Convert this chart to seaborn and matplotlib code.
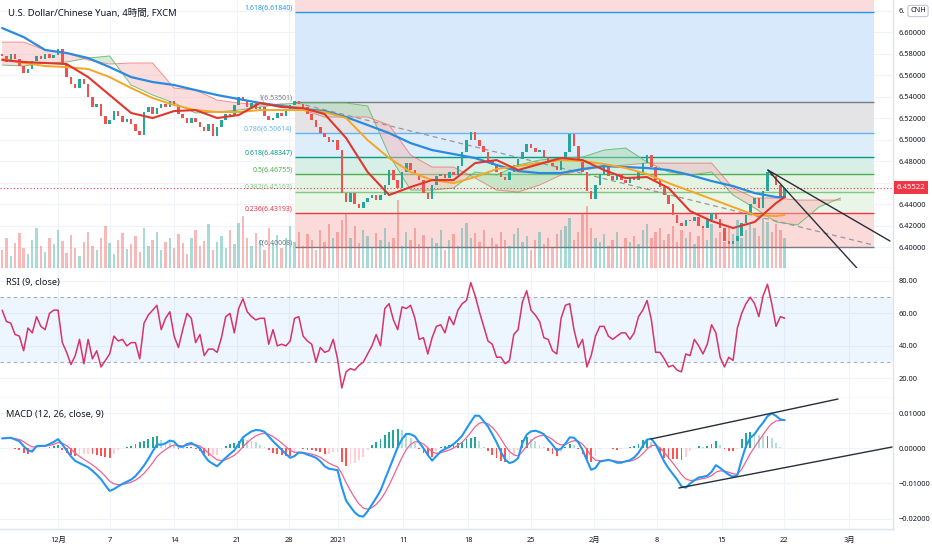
import numpy as np
import pandas as pd
import matplotlib
matplotlib.use("Agg")
import matplotlib.pyplot as plt
import matplotlib.transforms as mtransforms
import seaborn as sns

sns.set_theme(style="white")
plt.rcParams["font.family"] = ["Noto Sans", "Noto Sans CJK JP", "DejaVu Sans"]

# %%
# USD/CNH, one value per 8h bar (open = previous close)
first_open = 6.580
close = [
    6.578, 6.572, 6.580, 6.575, 6.568, 6.562, 6.566, 6.573, 6.578, 6.575,
    6.580, 6.576, 6.579, 6.584, 6.570, 6.558, 6.552, 6.548, 6.556, 6.552,
    6.540, 6.530, 6.533, 6.522, 6.514, 6.518, 6.527, 6.522, 6.516, 6.519,
    6.514, 6.508, 6.504, 6.526, 6.530, 6.524, 6.529, 6.533, 6.530, 6.536,
    6.532, 6.524, 6.520, 6.515, 6.520, 6.516, 6.512, 6.508, 6.514, 6.503,
    6.512, 6.518, 6.524, 6.522, 6.532, 6.540, 6.536, 6.530, 6.534, 6.528,
    6.530, 6.522, 6.518, 6.520, 6.525, 6.522, 6.528, 6.532, 6.536, 6.533,
    6.530, 6.524, 6.518, 6.512, 6.506, 6.502, 6.498, 6.500, 6.490, 6.450,
    6.442, 6.450, 6.440, 6.436, 6.442, 6.446, 6.448, 6.444, 6.448, 6.458,
    6.472, 6.462, 6.455, 6.470, 6.478, 6.472, 6.468, 6.462, 6.450, 6.445,
    6.458, 6.466, 6.468, 6.464, 6.470, 6.467, 6.475, 6.488, 6.500, 6.507,
    6.500, 6.494, 6.488, 6.480, 6.476, 6.470, 6.465, 6.462, 6.470, 6.476,
    6.482, 6.488, 6.496, 6.492, 6.488, 6.490, 6.484, 6.478, 6.475, 6.472,
    6.482, 6.488, 6.505, 6.494, 6.480, 6.470, 6.452, 6.445, 6.458, 6.468,
    6.474, 6.466, 6.462, 6.468, 6.462, 6.460, 6.464, 6.462, 6.470, 6.478,
    6.486, 6.474, 6.462, 6.456, 6.448, 6.440, 6.430, 6.422, 6.420, 6.425,
    6.424, 6.428, 6.420, 6.418, 6.425, 6.432, 6.426, 6.418, 6.406, 6.403,
    6.406, 6.410, 6.422, 6.430, 6.440, 6.446, 6.436, 6.452, 6.470, 6.466,
    6.458, 6.446, 6.45522,
]
volume = [
    18, 30, 12, 25, 35, 20, 14, 28, 40, 22,
    16, 30, 24, 38, 27, 15, 33, 20, 12, 26,
    36, 22, 18, 30, 42, 25, 14, 28, 35, 19,
    24, 32, 16, 40, 22, 28, 36, 18, 26, 30,
    20, 34, 25, 14, 30, 38, 22, 27, 44, 18,
    26, 32, 20, 38, 24, 45, 52, 30, 22, 35,
    28, 18, 40, 25, 33, 20, 30, 42, 26, 36,
    22, 34, 28, 18, 38, 26, 44, 30, 36, 48,
    55, 30, 42, 25, 38, 32, 20, 35, 28, 40,
    26, 30, 68, 22, 36, 28, 40, 24, 33, 20,
    30, 25, 38, 18, 28, 34, 22, 40, 45, 30,
    35, 26, 38, 20, 30, 24, 36, 28, 22, 34,
    40, 26, 32, 18, 28, 36, 24, 30, 20, 34,
    38, 42, 50, 28, 36, 55, 62, 40, 30, 26,
    34, 22, 28, 36, 20, 30, 26, 32, 24, 38,
    44, 30, 36, 40, 28, 34, 42, 26, 38, 30,
    36, 24, 32, 40, 28, 44, 30, 36, 26, 42,
    34, 48, 30, 38, 45, 40, 32, 50, 46, 36,
    44, 38, 30,
]
rsi = [
    62, 55, 54, 47, 46, 37, 51, 48, 58, 52,
    50, 60, 62, 62, 42, 36, 28.5, 34, 44, 29,
    44, 32, 37, 27, 31, 35, 46, 43, 44, 40,
    42, 42, 32, 54, 59, 62, 65, 50, 57, 61,
    46, 39, 50, 60, 57, 42, 47, 34, 38, 38,
    36, 45, 58, 60, 48, 63, 69, 61, 58, 56,
    57, 57, 41, 50, 40, 41, 40, 43, 57, 58,
    46, 43, 41, 30, 39, 36, 37, 44, 32, 14,
    24, 26, 25, 28, 30, 35, 40, 47, 40, 63,
    66, 56, 50, 64, 63, 65, 57, 44, 45, 35,
    45, 52, 53, 48, 58, 53, 62, 66, 68, 79,
    71, 61, 52, 43, 41, 33, 33, 29, 31, 47,
    50, 67, 74, 62, 59, 55, 45, 44, 37, 35,
    57, 65, 66, 50, 39, 44, 27, 34, 46, 52,
    52, 46, 44, 46, 48, 48, 44, 48, 58, 62,
    68, 56, 36, 36, 32, 27, 28, 25, 24, 35,
    34, 44, 40, 35, 41, 53, 48, 33, 27, 33,
    31, 51, 60, 66, 70, 66, 58, 71, 78, 66,
    52, 58, 57,
]
# MACD line in thousandths
macd_milli = [
    2.8, 2.9, 3.0, 2.5, 2.0, 0.6, -0.6, -0.9, 0.6, 0.7,
    0.7, 1.2, 1.8, 2.6, 1.1, -0.6, -2.3, -3.6, -4.2, -4.8,
    -5.4, -6.4, -7.5, -8.8, -10.5, -12.1, -11.6, -10.8, -10.1, -9.5,
    -8.9, -7.9, -6.5, -4.9, -3.0, -0.9, 1.1, 1.0, 1.4, 2.2,
    1.9, 0.5, 0.4, 1.2, 1.5, 0.8, 0.0, -2.0, -3.6, -4.4,
    -5.1, -3.9, -2.7, -1.6, -0.6, 1.2, 3.1, 4.0, 4.8, 5.2,
    5.1, 4.7, 3.4, 2.0, 0.8, -0.4, -1.6, -2.7, -2.2, -1.2,
    -1.3, -1.8, -2.2, -2.7, -3.7, -5.1, -5.8, -6.0, -6.2, -11.0,
    -14.9, -16.6, -18.2, -19.2, -19.4, -17.9, -16.0, -14.1, -12.0, -8.9,
    -5.9, -2.8, 0.3, 2.6, 4.1, 4.0, 3.4, 1.7, 0.0, -1.9,
    -3.5, -2.2, -0.9, -0.2, 0.4, 1.2, 2.3, 3.6, 5.6, 7.5,
    9.3, 9.2, 7.7, 6.2, 4.0, 1.7, -1.0, -3.2, -4.2, -3.8,
    -2.8, 1.5, 3.9, 4.8, 5.0, 4.6, 4.0, 2.4, 1.0, -0.6,
    -0.1, 1.3, 3.1, 3.0, 1.7, -0.5, -3.4, -6.1, -5.6, -3.8,
    -3.5, -3.3, -3.6, -4.1, -4.1, -3.7, -3.4, -2.6, -1.3, 0.7,
    2.5, 2.7, 1.1, -1.3, -3.8, -5.7, -7.3, -8.9, -10.8, -11.2,
    -10.0, -9.1, -8.3, -8.1, -7.8, -6.7, -4.8, -5.6, -6.6, -7.5,
    -8.1, -7.6, -3.2, 0.6, 3.0, 4.0, 5.8, 7.3, 9.1, 9.9,
    9.2, 8.2, 8.0,
]

# moving averages, read every 5 bars
ma_idx = list(range(0, 181, 5)) + [182]
ma_red = [6.5740, 6.5721, 6.5712, 6.5702, 6.5581, 6.5414, 6.5247, 6.5200, 6.5265, 6.5274,
          6.5200, 6.5228, 6.5340, 6.5302, 6.5293, 6.5237, 6.5014, 6.4698, 6.4484, 6.4558,
          6.4623, 6.4623, 6.4781, 6.4809, 6.4716, 6.4772, 6.4828, 6.4809, 6.4716, 6.4642,
          6.4651, 6.4549, 6.4335, 6.4242, 6.4177, 6.4233, 6.4409, 6.4465]
ma_orange = [6.5749, 6.5712, 6.5684, 6.5674, 6.5656, 6.5581, 6.5479, 6.5386, 6.5321, 6.5274,
             6.5256, 6.5256, 6.5274, 6.5274, 6.5274, 6.5256, 6.5200, 6.4995, 6.4828, 6.4698,
             6.4623, 6.4595, 6.4651, 6.4726, 6.4753, 6.4781, 6.4809, 6.4800, 6.4772, 6.4735,
             6.4679, 6.4595, 6.4521, 6.4447, 6.4372, 6.4298, 6.4288, 6.4298]
ma_blue = [6.6037, 6.5953, 6.5833, 6.5805, 6.5758, 6.5674, 6.5581, 6.5535, 6.5507, 6.5460,
           6.5414, 6.5377, 6.5340, 6.5312, 6.5284, 6.5265, 6.5209, 6.5135, 6.5060, 6.4967,
           6.4902, 6.4865, 6.4828, 6.4763, 6.4707, 6.4688, 6.4688, 6.4726, 6.4753, 6.4744,
           6.4735, 6.4716, 6.4670, 6.4614, 6.4567, 6.4502, 6.4465, 6.4465]

# ichimoku cloud spans, every 5 bars (runs past the last bar)
cloud_idx = list(range(0, 196, 5))
span_a = [6.5693, 6.5684, 6.5712, 6.5721, 6.5758, 6.5777, 6.5507, 6.5414, 6.5340, 6.5247,
          6.5256, 6.5274, 6.5302, 6.5330, 6.5340, 6.5340, 6.5340, 6.5312, 6.4856, 6.4530,
          6.4530, 6.4549, 6.4698, 6.4670, 6.4763, 6.4809, 6.4828, 6.4837, 6.4902, 6.4921,
          6.4791, 6.4698, 6.4670, 6.4698, 6.4484, 6.4363, 6.4233, 6.4205, 6.4372, 6.4456]
span_b = [6.5907, 6.5907, 6.5833, 6.5805, 6.5740, 6.5702, 6.5712, 6.5712, 6.5479, 6.5460,
          6.5367, 6.5340, 6.5321, 6.5330, 6.5274, 6.5209, 6.5209, 6.5209, 6.5135, 6.4856,
          6.4744, 6.4744, 6.4642, 6.4530, 6.4512, 6.4577, 6.4670, 6.4716, 6.4744, 6.4763,
          6.4781, 6.4781, 6.4781, 6.4781, 6.4549, 6.4456, 6.4456, 6.4437, 6.4437, 6.4437]

# fibonacci retracement
fib_ratio = ["1.618", "1", "0.786", "0.618", "0.5", "0.382", "0.236", "0"]
fib_price = [6.61840, 6.53501, 6.50614, 6.48347, 6.46755, 6.45163, 6.43193, 6.40008]
fib_line_col = ["#2196f3", "#787b86", "#64b5f6", "#089981", "#4caf50", "#81c784", "#f23645", "#787b86"]
fib_zone_col = ["#fbdcdc", "#d7e9fb", "#e4e4e6", "#ddedfa", "#d8efe8", "#e4f3e2", "#e9f5e7", "#fbdada"]
fib_start, fib_end = 68.1, 202.8

# hand-drawn lines (bar index, value)
trend_top = ([178.1, 206.5], [6.4716, 6.4056])
trend_steep = ([178.1, 198.8], [6.4716, 6.3805])
trend_dash = ([70.5, 202.6], [6.5321, 6.4019])
macd_chan_top = ([150.9, 194.4], [0.00264, 0.0140])
macd_chan_low = ([157.4, 207.0], [-0.01128, 0.00037])

last_price = 6.45522
price_ticks = [6.40, 6.42, 6.44, 6.46, 6.48, 6.50, 6.52, 6.54, 6.56, 6.58, 6.60, 6.62]
tick_labels = ["12月", "7", "14", "21", "28", "2021", "11", "18", "25", "2月", "8", "15", "22", "3月"]
tick_pos = [13.0, 25.1, 40.0, 54.6, 66.7, 78.1, 93.3, 108.4, 123.0, 137.7, 152.3, 167.4, 181.9, 197.0]

# %%
bars = np.arange(len(close))
c = np.array(close)
o = np.concatenate([[first_open], c[:-1]])
up = c >= o
candle_col = np.where(up, "#26a69a", "#ef5350")

macd = np.array(macd_milli) / 1000
signal = pd.Series(macd).ewm(span=5, adjust=False).mean().values
hist = macd - signal
prev = np.concatenate([[hist[0]], hist[:-1]])
hist_col = np.where(hist >= 0,
                    np.where(hist >= prev, "#26a69a", "#b2dfdb"),
                    np.where(hist <= prev, "#ff5252", "#ffcdd2"))

W, H = 932, 550
fig = plt.figure(figsize=(W / 100, H / 100), dpi=100)
ax = fig.add_axes([0, 282 / H, 893 / W, 268 / H])
ax_rsi = fig.add_axes([0, 152 / H, 893 / W, 130 / H])
ax_macd = fig.add_axes([0, 21 / H, 893 / W, 131 / H])

# volume on a hidden twin axis (created first so the price ticks stay on the right)
axv = ax.twinx()

grid_col = "#f0f3fa"
edge_col = "#e0e3eb"
txt_col = "#131722"
for a in (ax, ax_rsi, ax_macd):
    a.set_xlim(-0.5, 207.2)
    a.set_facecolor("white")
    for s in ("left", "top"):
        a.spines[s].set_visible(False)
    for s in ("right", "bottom"):
        a.spines[s].set_color(edge_col)
        a.spines[s].set_linewidth(1)
    a.yaxis.tick_right()
    a.yaxis.set_label_position("right")
    a.tick_params(axis="both", length=0, labelsize=5.3, labelcolor=txt_col, pad=4)
    a.tick_params(axis="y", left=False, labelleft=False, right=True, labelright=True)
    a.grid(True, color=grid_col, lw=0.8)
    a.set_axisbelow(True)

# --- price panel
ax.set_ylim(6.3805, 6.6298)

# fib zones
tops = [6.6298] + fib_price[:-1]
for top, bot, zc in zip(tops, fib_price, fib_zone_col):
    ax.fill_between([fib_start, fib_end], bot, top, color=zc, lw=0, zorder=1)
ax.hlines(fib_price, fib_start, fib_end, colors=fib_line_col, lw=1, zorder=2)
for r, p, lc in zip(fib_ratio, fib_price, fib_line_col):
    ax.text(fib_start - 0.6, p + 0.0006, f"{r}({p:.5f})", ha="right", va="bottom",
            fontsize=5, color=lc, zorder=2)

# ichimoku cloud
sa, sb = np.array(span_a), np.array(span_b)
ax.fill_between(cloud_idx, sa, sb, where=sb >= sa, interpolate=True,
                color="#f7b4b4", alpha=0.45, lw=0, zorder=3)
ax.fill_between(cloud_idx, sa, sb, where=sa > sb, interpolate=True,
                color="#a5d6a7", alpha=0.45, lw=0, zorder=3)
ax.plot(cloud_idx, sa, color="#66bb6a", lw=0.7, alpha=0.9, zorder=3)
ax.plot(cloud_idx, sb, color="#ef5350", lw=0.7, alpha=0.6, zorder=3)

ax.axhline(last_price, color="#f23645", lw=0.8, ls=(0, (1, 2)), zorder=3)
ax.plot(*trend_dash, color="#9598a1", lw=0.9, ls=(0, (4, 3)), zorder=4)

# candles
ax.bar(bars, np.maximum(np.abs(c - o), 0.0006), bottom=np.minimum(o, c),
       width=0.58, color=candle_col, lw=0, zorder=5)

sns.lineplot(x=ma_idx, y=ma_blue, ax=ax, color="#2a8ae0", lw=1.6, zorder=6)
sns.lineplot(x=ma_idx, y=ma_orange, ax=ax, color="#f5a623", lw=1.4, zorder=6)
sns.lineplot(x=ma_idx, y=ma_red, ax=ax, color="#e0362d", lw=1.5, zorder=7)

ax.plot(*trend_top, color="#2a2e39", lw=1, zorder=8)
ax.plot(*trend_steep, color="#2a2e39", lw=1, zorder=8)

# 6.46 sits under the last-price badge, 6.62 under the currency box
price_labels = []
for v in price_ticks:
    if abs(v - 6.46) < 1e-9:
        price_labels.append("")
    elif abs(v - 6.62) < 1e-9:
        price_labels.append("6.")
    else:
        price_labels.append(f"{v:.5f}")
ax.set_yticks(price_ticks, price_labels)
ax.set_xticks(tick_pos)
ax.tick_params(axis="x", labelbottom=False)
ax.set_xlabel("")
ax.set_ylabel("")

blend = mtransforms.blended_transform_factory(ax.transAxes, ax.transData)
ax.text(1.004, last_price, "6.45522", transform=blend, color="white", fontsize=5.6,
        fontweight="bold", va="center", ha="left", zorder=10,
        bbox=dict(boxstyle="square,pad=0.35", fc="#f23645", ec="none"))

axv.bar(bars, volume, width=0.55, color=candle_col, alpha=0.4, lw=0)
axv.set_ylim(0, 268)
axv.set_xlim(ax.get_xlim())
axv.axis("off")

# --- RSI panel
ax_rsi.set_ylim(7.85, 88.0)
ax_rsi.axhspan(30, 70, color="#2196f3", alpha=0.08, lw=0)
for lvl in (70, 30):
    ax_rsi.axhline(lvl, color="#9598a1", lw=0.8, ls=(0, (3, 3)), alpha=0.8)
sns.lineplot(x=bars, y=rsi, ax=ax_rsi, color="#d8336a", lw=1.1)
ax_rsi.set_yticks([20, 40, 60, 80], ["20.00", "40.00", "60.00", "80.00"])
ax_rsi.set_xticks(tick_pos)
ax_rsi.tick_params(axis="x", labelbottom=False)
ax_rsi.set_xlabel("")
ax_rsi.set_ylabel("")

# --- MACD panel
ax_macd.set_ylim(-0.02293, 0.01429)
ax_macd.bar(bars, hist, width=0.42, color=hist_col, lw=0)
sns.lineplot(x=bars, y=signal, ax=ax_macd, color="#f06292", lw=0.9)
sns.lineplot(x=bars, y=macd, ax=ax_macd, color="#2196f3", lw=1.5)
ax_macd.plot(*macd_chan_top, color="#2a2e39", lw=1)
ax_macd.plot(*macd_chan_low, color="#2a2e39", lw=1)
macd_ticks = [0.01, 0.0, -0.01, -0.02]
ax_macd.set_yticks(macd_ticks, [f"{v:.5f}".replace("-", "\u2212") for v in macd_ticks])
ax_macd.set_xticks(tick_pos, tick_labels)
ax_macd.tick_params(axis="x", pad=6)
for lab in ax_macd.get_xticklabels():
    if lab.get_text() == "2021":
        lab.set_fontweight("bold")
ax_macd.set_xlabel("")
ax_macd.set_ylabel("")

# --- labels
fig.text(8 / W, 1 - 13 / H, "U.S. Dollar/Chinese Yuan, 4時間, FXCM", fontsize=6.8,
         color=txt_col, va="center", ha="left")
fig.text(6 / W, 1 - 283 / H, "RSI (9, close)", fontsize=6.6, color=txt_col, va="center")
fig.text(6 / W, 1 - 414 / H, "MACD (12, 26, close, 9)", fontsize=6.6, color=txt_col, va="center")
fig.text(918 / W, 1 - 11 / H, "CNH", fontsize=5.3, color=txt_col, ha="center", va="center",
         bbox=dict(boxstyle="round,pad=0.3", fc="white", ec="#b2b5be", lw=0.6))

fig.savefig("out.png", dpi=100, facecolor="white")
